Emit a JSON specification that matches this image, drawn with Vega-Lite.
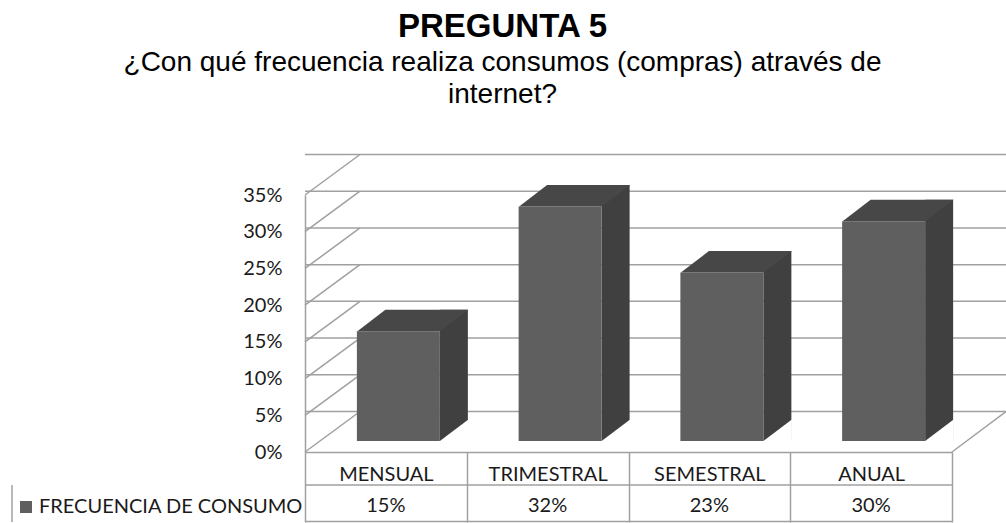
{
  "$schema": "https://vega.github.io/schema/vega-lite/v6.json",
  "autosize": {"type": "none"},
  "padding": {"left": 305, "top": 195, "right": 54, "bottom": 71},
  "width": 647,
  "height": 257,
  "background": "white",
  "config": {"view": {"stroke": null}, "font": "Lato"},
  "title": {
    "text": "PREGUNTA 5",
    "subtitle": ["¿Con qué frecuencia realiza consumos (compras) através de", "internet?"],
    "anchor": "middle",
    "frame": "group",
    "dx": -126,
    "font": "Liberation Sans",
    "fontSize": 33,
    "fontWeight": "bold",
    "color": "#000000",
    "subtitleFont": "Liberation Sans",
    "subtitleFontSize": 28,
    "subtitleColor": "#000000",
    "subtitleLineHeight": 32,
    "subtitlePadding": 5,
    "offset": 43
  },
  "datasets": {
    "respuestas": [
      {"frecuencia": "MENSUAL", "porcentaje": 0.15, "serie": "FRECUENCIA DE CONSUMO"},
      {"frecuencia": "TRIMESTRAL", "porcentaje": 0.32, "serie": "FRECUENCIA DE CONSUMO"},
      {"frecuencia": "SEMESTRAL", "porcentaje": 0.23, "serie": "FRECUENCIA DE CONSUMO"},
      {"frecuencia": "ANUAL", "porcentaje": 0.30, "serie": "FRECUENCIA DE CONSUMO"}
    ],
    "escala": [
      {"tick": 0}, {"tick": 0.05}, {"tick": 0.1}, {"tick": 0.15},
      {"tick": 0.2}, {"tick": 0.25}, {"tick": 0.3}, {"tick": 0.35}
    ]
  },
  "layer": [
    {
      "data": {"name": "escala"},
      "mark": {"type": "rule", "color": "#a0a0a0", "strokeWidth": 1.5, "yOffset": -40.5, "xOffset": 54, "x2Offset": 55},
      "encoding": {
        "y": {
          "field": "tick", "type": "quantitative",
          "scale": {"domain": [0, 0.35], "nice": false, "zero": true},
          "axis": {
            "title": null, "orient": "left",
            "values": [0, 0.05, 0.1, 0.15, 0.2, 0.25, 0.3, 0.35], "tickCount": 8,
            "format": ".0%", "domain": true, "domainColor": "#a0a0a0", "domainWidth": 1.5,
            "ticks": false, "tickSize": 0, "grid": false, "labelPadding": 23,
            "labelOverlap": false, "labelBound": false,
            "labelFont": "Lato", "labelFontSize": 20, "labelColor": "#1a1a1a"
          }
        }
      }
    },
    {
      "data": {"name": "escala"},
      "mark": {"type": "point", "shape": "M0,0 L55,-40.5", "size": 4, "filled": false, "stroke": "#a0a0a0", "strokeWidth": 1.5, "opacity": 1},
      "encoding": {
        "x": {"datum": "MENSUAL", "type": "nominal", "bandPosition": 0},
        "y": {"field": "tick", "type": "quantitative"}
      }
    },
    {
      "data": {"name": "escala"},
      "transform": [{"filter": "datum.tick == 0"}],
      "mark": {"type": "point", "shape": "M0,0 L54,-40.5", "size": 4, "filled": false, "stroke": "#a0a0a0", "strokeWidth": 1.5, "opacity": 1},
      "encoding": {
        "x": {"datum": "ANUAL", "type": "nominal", "bandPosition": 1},
        "y": {"field": "tick", "type": "quantitative"}
      }
    },
    {
      "data": {"name": "escala"},
      "transform": [{"filter": "datum.tick == 0"}],
      "mark": {"type": "rule", "color": "#a0a0a0", "strokeWidth": 1.5, "yOffset": 33, "x2Offset": -293},
      "encoding": {"y": {"field": "tick", "type": "quantitative"}}
    },
    {
      "data": {"name": "escala"},
      "transform": [{"filter": "datum.tick == 0"}],
      "mark": {"type": "rule", "color": "#a0a0a0", "strokeWidth": 1.5, "yOffset": 69.5, "x2Offset": -293},
      "encoding": {"y": {"field": "tick", "type": "quantitative"}}
    },
    {
      "data": {"name": "escala"},
      "transform": [{"filter": "datum.tick == 0"}],
      "mark": {"type": "point", "shape": "M-293,33 L-293,70", "size": 4, "filled": false, "stroke": "#a0a0a0", "strokeWidth": 1.5, "opacity": 1},
      "encoding": {
        "x": {"datum": "MENSUAL", "type": "nominal", "bandPosition": 0},
        "y": {"field": "tick", "type": "quantitative"}
      }
    },
    {
      "data": {"name": "respuestas"},
      "mark": {"type": "bar", "width": 28, "xOffset": 68, "yOffset": -32, "y2Offset": -11, "color": "#404040"},
      "encoding": {
        "x": {
          "field": "frecuencia", "type": "nominal", "sort": null,
          "scale": {"domain": ["MENSUAL", "TRIMESTRAL", "SEMESTRAL", "ANUAL"], "paddingInner": 0, "paddingOuter": 0},
          "axis": {
            "title": null, "orient": "bottom", "domain": true, "domainColor": "#a0a0a0", "domainWidth": 1.5,
            "ticks": true, "tickBand": "extent", "tickSize": 70, "tickColor": "#a0a0a0", "tickWidth": 1.5,
            "labelPadding": -41.5, "labelBaseline": "alphabetic", "labelAlign": "center", "labelAngle": 0,
            "labelOverlap": false, "labelBound": false,
            "labelFont": "Lato", "labelFontSize": 20, "labelColor": "#1a1a1a", "grid": false
          }
        },
        "y": {"field": "porcentaje", "type": "quantitative"},
        "y2": {"datum": 0}
      }
    },
    {
      "data": {"name": "respuestas"},
      "mark": {"type": "point", "shape": "M54,-11 L82.5,-11 L82.5,-32.5 Z", "size": 4, "filled": true, "color": "#ffffff", "opacity": 1, "strokeWidth": 0},
      "encoding": {
        "x": {"field": "frecuencia", "type": "nominal"},
        "y": {"datum": 0, "type": "quantitative"}
      }
    },
    {
      "data": {"name": "respuestas"},
      "mark": {"type": "bar", "width": 83, "xOffset": 12.5, "yOffset": -10.5, "y2Offset": -11},
      "encoding": {
        "x": {"field": "frecuencia", "type": "nominal"},
        "y": {"field": "porcentaje", "type": "quantitative"},
        "y2": {"datum": 0},
        "color": {
          "field": "serie", "type": "nominal",
          "scale": {"range": ["#5f5f5f"]},
          "legend": {
            "orient": "none", "legendX": -289, "legendY": 302, "title": null,
            "symbolType": "square", "symbolSize": 144, "symbolStrokeWidth": 0,
            "labelFont": "Lato", "labelFontSize": 20, "labelColor": "#1a1a1a",
            "labelOffset": 3, "padding": 0, "labelLimit": 400
          }
        }
      }
    },
    {
      "data": {"name": "respuestas"},
      "mark": {"type": "point", "shape": "M-28.5,-10.5 L54.5,-10.5 L82.5,-32 L-0.5,-32 Z", "size": 4, "filled": true, "color": "#474747", "opacity": 1, "strokeWidth": 0},
      "encoding": {
        "x": {"field": "frecuencia", "type": "nominal"},
        "y": {"field": "porcentaje", "type": "quantitative"}
      }
    },
    {
      "data": {"name": "respuestas"},
      "mark": {"type": "text", "baseline": "alphabetic", "yOffset": 59.5, "font": "Lato", "fontSize": 20, "color": "#1a1a1a"},
      "encoding": {
        "x": {"field": "frecuencia", "type": "nominal"},
        "y": {"datum": 0, "type": "quantitative"},
        "text": {"field": "porcentaje", "type": "quantitative", "format": ".0%"}
      }
    }
  ]
}
